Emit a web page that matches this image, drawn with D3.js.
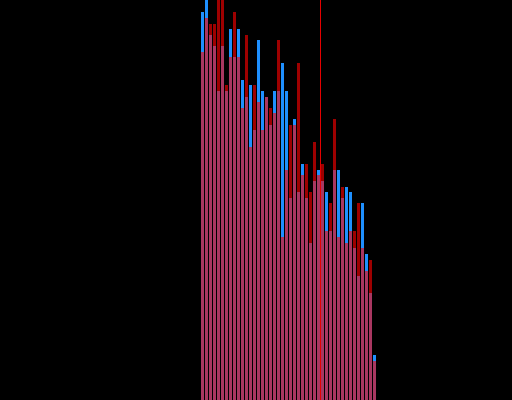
<!DOCTYPE html>
<html>
<head>
<meta charset="utf-8">
<script src="https://cdn.jsdelivr.net/npm/d3@7"></script>
<style>
  html, body { margin: 0; padding: 0; background: #000; }
  svg { display: block; }
</style>
</head>
<body>
<script>
// Bin indices of the two overlaid histograms
const bins = d3.range(44);

// Counts per bin, first series (blue, drawn underneath)
const blueCounts = [69, 73, 65, 63, 55, 63, 55, 66, 61, 66, 57, 54, 56, 48, 64, 55,
                    54, 49, 55, 55, 60, 55, 36, 50, 37, 42, 36, 28, 39, 41, 39, 37,
                    30, 41, 41, 36, 38, 37, 27, 22, 35, 26, 19, 8];

// Counts per bin, second series (red, translucent on top)
const redCounts  = [62, 68, 67, 67, 75, 72, 56, 61, 69, 61, 52, 65, 45, 56, 53, 48,
                    54, 52, 51, 64, 29, 41, 49, 49, 60, 40, 42, 37, 46, 40, 42, 30,
                    35, 50, 29, 38, 28, 30, 30, 35, 27, 23, 25, 7];

// Bin whose lower edge carries the reference line
const markerBin = 30;

const width = 512, height = 400;

const svg = d3.select("body").append("svg")
  .attr("width", width)
  .attr("height", height)
  .style("background", "#000");

const x = d3.scaleBand()
  .domain(bins)
  .range([201, 376])
  .paddingInner(0.25)
  .paddingOuter(0);

const y = d3.scaleLinear()
  .domain([0, 71.2])
  .range([height, 0]);

function drawSeries(values, fill, opacity) {
  svg.append("g")
    .selectAll("rect")
    .data(bins)
    .join("rect")
    .attr("x", d => x(d))
    .attr("width", x.bandwidth())
    .attr("y", d => y(values[d]))
    .attr("height", d => y(0) - y(values[d]))
    .attr("fill", fill)
    .attr("fill-opacity", opacity)
    .attr("shape-rendering", "crispEdges");
}

drawSeries(blueCounts, "#1e90ff", 1);
drawSeries(redCounts, "#ff0000", 0.62);

// Reference line at the boundary before markerBin
const lineX = x(markerBin) - x.step() * x.paddingInner() / 2;
svg.append("line")
  .attr("x1", lineX).attr("x2", lineX)
  .attr("y1", 0).attr("y2", height)
  .attr("stroke", "#e60000")
  .attr("stroke-width", 1);
</script>
</body>
</html>
